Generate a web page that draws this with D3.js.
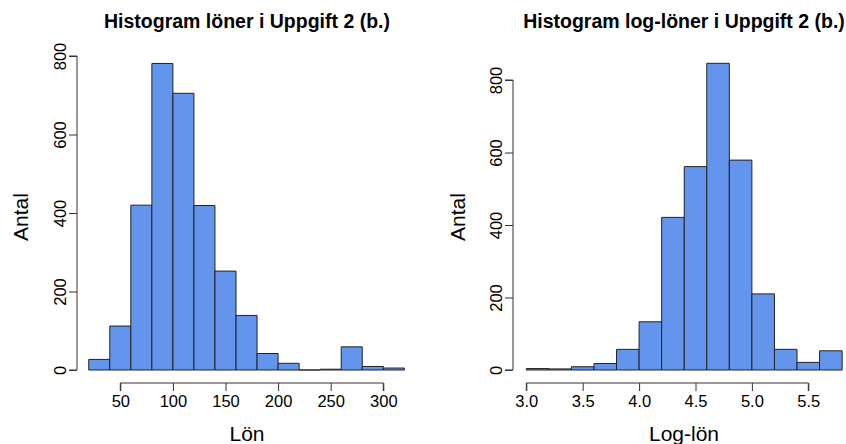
<!DOCTYPE html>
<html>
<head>
<meta charset="utf-8">
<script src="https://cdn.jsdelivr.net/npm/d3@7"></script>
<style>
  body { margin: 0; background: #fff; }
  svg { display: block; font-family: "Liberation Sans", Arial, sans-serif; }
  .bar { fill: #6495ED; stroke: #222; stroke-width: 1; }
</style>
</head>
<body>
<svg id="chart" width="846" height="444"></svg>
<script>
// lön-histogram: bin edges and counts
const lonBreaks = [20, 40, 60, 80, 100, 120, 140, 160, 180, 200, 220, 240, 260, 280, 300, 320];
const lonCounts = [27, 112, 420, 781, 705, 419, 252, 139, 42, 17, 0, 2, 59, 9, 5];
const lonXTicks = [50, 100, 150, 200, 250, 300];

// log-lön-histogram
const logBreaks = [3.0, 3.2, 3.4, 3.6, 3.8, 4.0, 4.2, 4.4, 4.6, 4.8, 5.0, 5.2, 5.4, 5.6, 5.8];
const logCounts = [4, 3, 9, 18, 57, 133, 421, 561, 846, 579, 210, 57, 21, 53];
const logXTicks = [3.0, 3.5, 4.0, 4.5, 5.0, 5.5];

const yTicks = [0, 200, 400, 600, 800];

const svg = d3.select("#chart");

function histPanel(opt) {
  const g = svg.append("g");
  const x = d3.scaleLinear().domain(opt.xDomain).range(opt.xRange);
  const y = d3.scaleLinear().domain([0, 800]).range(opt.yRange);

  const bins = opt.counts.map((c, i) => ({ x0: opt.breaks[i], x1: opt.breaks[i + 1], n: c }));
  // path istället för rect så att tomma staplar syns som en linje
  g.selectAll("path.bar")
    .data(bins)
    .enter().append("path")
      .attr("class", "bar")
      .attr("d", d => `M${x(d.x0)},${y(0)}V${y(d.n)}H${x(d.x1)}V${y(0)}Z`);

  // x-axel, R-stil: nedanför plottet
  const xAxis = d3.axisBottom(x).tickValues(opt.xTicks).tickSize(8).tickPadding(4)
    .tickFormat(opt.xFormat);
  const gx = g.append("g").attr("transform", `translate(0,${opt.xAxisY})`).call(xAxis);
  gx.select(".domain").attr("d", `M${x(opt.xTicks[0])},8V0H${x(opt.xTicks[opt.xTicks.length - 1])}V8`);

  const yAxis = d3.axisLeft(y).tickValues(yTicks).tickSize(8).tickFormat(d3.format("d"));
  const gy = g.append("g").attr("transform", `translate(${opt.yAxisX},0)`).call(yAxis);
  gy.select(".domain").attr("d", `M-8,${y(0)}H0V${y(800)}H-8`);
  gy.selectAll(".tick text")
    .attr("transform", "rotate(-90)")
    .attr("x", 0).attr("y", -11)
    .attr("dy", 0)
    .attr("text-anchor", "middle");

  g.selectAll(".domain, .tick line").attr("stroke", "#333").attr("stroke-width", 1);
  g.selectAll(".tick text").attr("font-size", 16.5).attr("fill", "#000")
    .attr("font-family", "Liberation Sans, Arial, sans-serif");
  gx.selectAll(".tick text").attr("dy", "0.71em");

  g.append("text")
    .attr("x", opt.titleX).attr("y", 28)
    .attr("text-anchor", "middle")
    .attr("font-weight", "bold").attr("font-size", 19.5)
    .text(opt.title);

  g.append("text")
    .attr("x", opt.titleX).attr("y", 441)
    .attr("text-anchor", "middle")
    .attr("font-size", 21)
    .text(opt.xLabel);

  g.append("text")
    .attr("transform", `translate(${opt.yLabelX},217) rotate(-90)`)
    .attr("text-anchor", "middle")
    .attr("font-size", 21)
    .text("Antal");
}

histPanel({
  breaks: lonBreaks, counts: lonCounts, xTicks: lonXTicks,
  xDomain: [50, 300], xRange: [120.3, 383.3], yRange: [370, 56],
  xAxisY: 383, yAxisX: 77, yLabelX: 28, titleX: 247,
  xFormat: d3.format("d"),
  title: "Histogram löner i Uppgift 2 (b.)", xLabel: "Lön"
});

histPanel({
  breaks: logBreaks, counts: logCounts, xTicks: logXTicks,
  xDomain: [3.0, 5.5], xRange: [526.3, 808.3], yRange: [370, 80],
  xAxisY: 383, yAxisX: 513, yLabelX: 465, titleX: 684,
  xFormat: d3.format(".1f"),
  title: "Histogram log-löner i Uppgift 2 (b.)", xLabel: "Log-lön"
});
</script>
</body>
</html>
